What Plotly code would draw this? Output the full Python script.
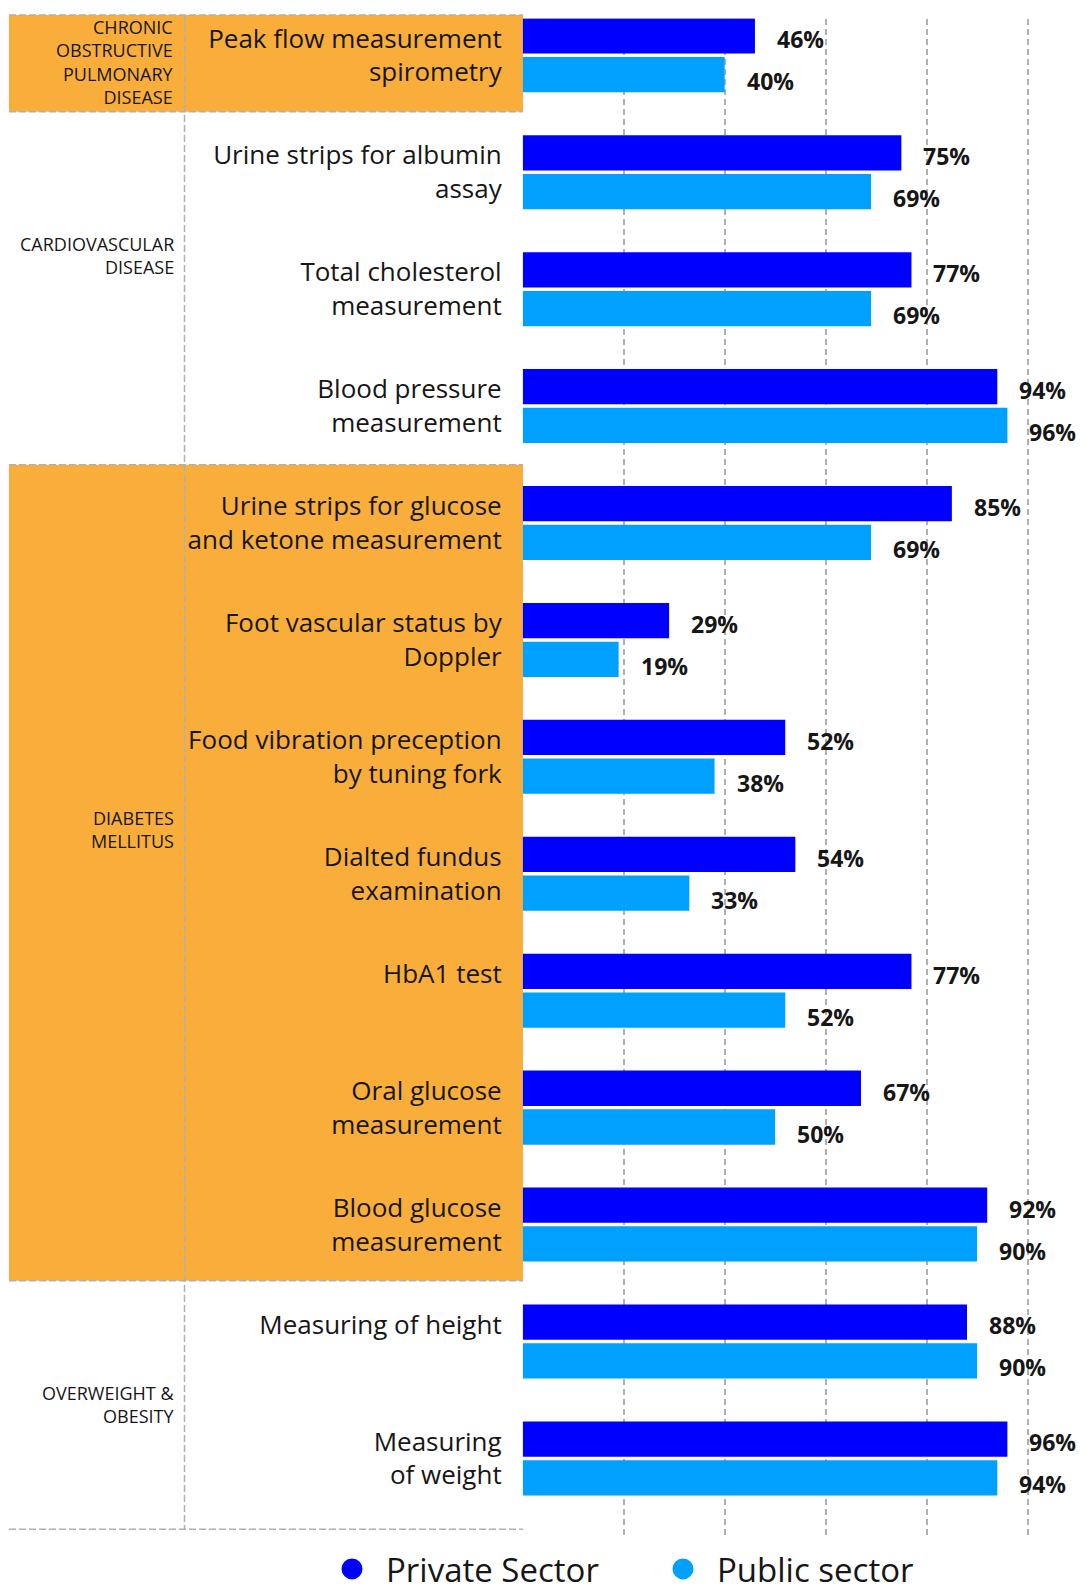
import plotly.graph_objects as go

# ---------------- data ----------------
categories = [
    "Peak flow measurement spirometry",
    "Urine strips for albumin assay",
    "Total cholesterol measurement",
    "Blood pressure measurement",
    "Urine strips for glucose and ketone measurement",
    "Foot vascular status by Doppler",
    "Food vibration preception by tuning fork",
    "Dialted fundus examination",
    "HbA1 test",
    "Oral glucose measurement",
    "Blood glucose measurement",
    "Measuring of height",
    "Measuring of weight",
]
tick_labels = [
    "Peak flow measurement<br>spirometry",
    "Urine strips for albumin<br>assay",
    "Total cholesterol<br>measurement",
    "Blood pressure<br>measurement",
    "Urine strips for glucose<br>and ketone measurement",
    "Foot vascular status by<br>Doppler",
    "Food vibration preception<br>by tuning fork",
    "Dialted fundus<br>examination",
    "HbA1 test<br>&nbsp;",
    "Oral glucose<br>measurement",
    "Blood glucose<br>measurement",
    "Measuring of height<br>&nbsp;",
    "Measuring<br>of weight",
]
private_sector = [46, 75, 77, 94, 85, 29, 52, 54, 77, 67, 92, 88, 96]
public_sector = [40, 69, 69, 96, 69, 19, 38, 33, 52, 50, 90, 90, 94]
series_names = ["Private Sector", "Public sector"]
group_labels = [
    "CHRONIC<br>OBSTRUCTIVE<br>PULMONARY<br>DISEASE",
    "CARDIOVASCULAR<br>DISEASE",
    "DIABETES<br>MELLITUS",
    "OVERWEIGHT &amp;<br>OBESITY",
]
grid_ticks = [20, 40, 60, 80, 100]

# ---------------- styling ----------------
W, H = 1073, 1600
DARK = "#0000FF"
LIGHT = "#00A0FF"
ORANGE = "#F9AE3B"
GRID = "#B0B0B0"
TXT = "#161616"
FONT = "Open Sans"
DASH = "7px,3px"


def px_x(p):
    return p / W


def px_y(p):
    return 1 - p / H


fig = go.Figure()
fig.add_trace(go.Bar(y=categories, x=private_sector, orientation="h", name=series_names[0],
                     marker=dict(color=DARK, line=dict(width=0)), showlegend=False))
fig.add_trace(go.Bar(y=categories, x=public_sector, orientation="h", name=series_names[1],
                     marker=dict(color=LIGHT, line=dict(width=0)), showlegend=False))

# legend entries (circle symbols)
for nm, col in zip(series_names, [DARK, LIGHT]):
    fig.add_trace(go.Scatter(x=[None], y=[None], mode="markers", name=nm,
                             marker=dict(symbol="circle", size=16, color=col,
                                         line=dict(color=col, width=5))))

# value labels
annotations = []
for cat, v in zip(categories, private_sector):
    annotations.append(dict(x=v, y=cat, xref="x", yref="y", text=f"{v}%", showarrow=False,
                            xanchor="left", yanchor="middle", xshift=20, yshift=16,
                            font=dict(family=FONT, size=23, color=TXT, weight="bold")))
for cat, v in zip(categories, public_sector):
    annotations.append(dict(x=v, y=cat, xref="x", yref="y", text=f"{v}%", showarrow=False,
                            xanchor="left", yanchor="middle", xshift=20, yshift=-26,
                            font=dict(family=FONT, size=23, color=TXT, weight="bold")))

# group labels
group_centers = [54, 247, 821, 1396]
for lab, cy in zip(group_labels, group_centers):
    annotations.append(dict(x=px_x(168), y=px_y(cy), xref="paper", yref="paper", text=lab,
                            showarrow=False, xanchor="right", yanchor="middle", align="right",
                            font=dict(family=FONT, size=18, color=TXT)))

# decorative frame shapes
shapes = []
LEFT, RIGHT, DIV = 1, 515, 176.5
boxes = [(7, 103.7), (456.8, 1272.8)]
for top, bot in boxes:
    shapes.append(dict(type="rect", xref="paper", yref="paper", x0=px_x(LEFT), x1=px_x(RIGHT),
                       y0=px_y(bot), y1=px_y(top), fillcolor=ORANGE, line=dict(width=0), layer="below"))
for yy in [7, 103.7, 456.8, 1272.8, 1521.3]:
    shapes.append(dict(type="line", xref="paper", yref="paper", x0=px_x(LEFT), x1=px_x(RIGHT),
                       y0=px_y(yy), y1=px_y(yy), line=dict(color=GRID, width=1.5, dash=DASH),
                       layer="above"))
shapes.append(dict(type="line", xref="paper", yref="paper", x0=px_x(DIV), x1=px_x(DIV),
                   y0=px_y(7), y1=px_y(1521.3), line=dict(color=GRID, width=1.5, dash=DASH),
                   layer="above"))

plot_left = 514.7
plot_top, plot_bot = 10.5, 1527
x100 = 1019.6
xmax = 100 * (W - plot_left) / (x100 - plot_left)
c0, c12 = 47.3, 1450.4
ppu = (c12 - c0) / 12
y_top = -(c0 - plot_top) / ppu
y_bot = 12 + (plot_bot - c12) / ppu

fig.update_layout(
    width=W, height=H,
    margin=dict(l=0, r=0, t=0, b=0, pad=0),
    paper_bgcolor="white", plot_bgcolor="white",
    barmode="group", bargap=0.337, bargroupgap=0.09,
    font=dict(family=FONT, color=TXT),
    xaxis=dict(domain=[plot_left / W, 1], range=[0, xmax], tickvals=grid_ticks,
               showticklabels=False, showgrid=True, gridcolor=GRID, gridwidth=1.5,
               griddash="6px,4px", zeroline=False, showline=False, ticks="", automargin=False,
               fixedrange=True),
    yaxis=dict(domain=[1 - plot_bot / H, 1 - plot_top / H], type="category",
               range=[y_bot, y_top], tickvals=categories, ticktext=tick_labels,
               tickfont=dict(family=FONT, size=26, color=TXT), ticks="",
               ticklabelstandoff=20, showgrid=False, zeroline=False, showline=False,
               automargin=False, fixedrange=True),
    legend=dict(orientation="h", x=px_x(310), xanchor="left", y=px_y(1561), yanchor="middle",
                font=dict(family=FONT, size=33, color=TXT), itemwidth=58, entrywidth=258,
                entrywidthmode="pixels", bgcolor="rgba(0,0,0,0)", itemsizing="trace"),
    annotations=annotations,
    shapes=shapes,
)

fig.write_html("out.html")
